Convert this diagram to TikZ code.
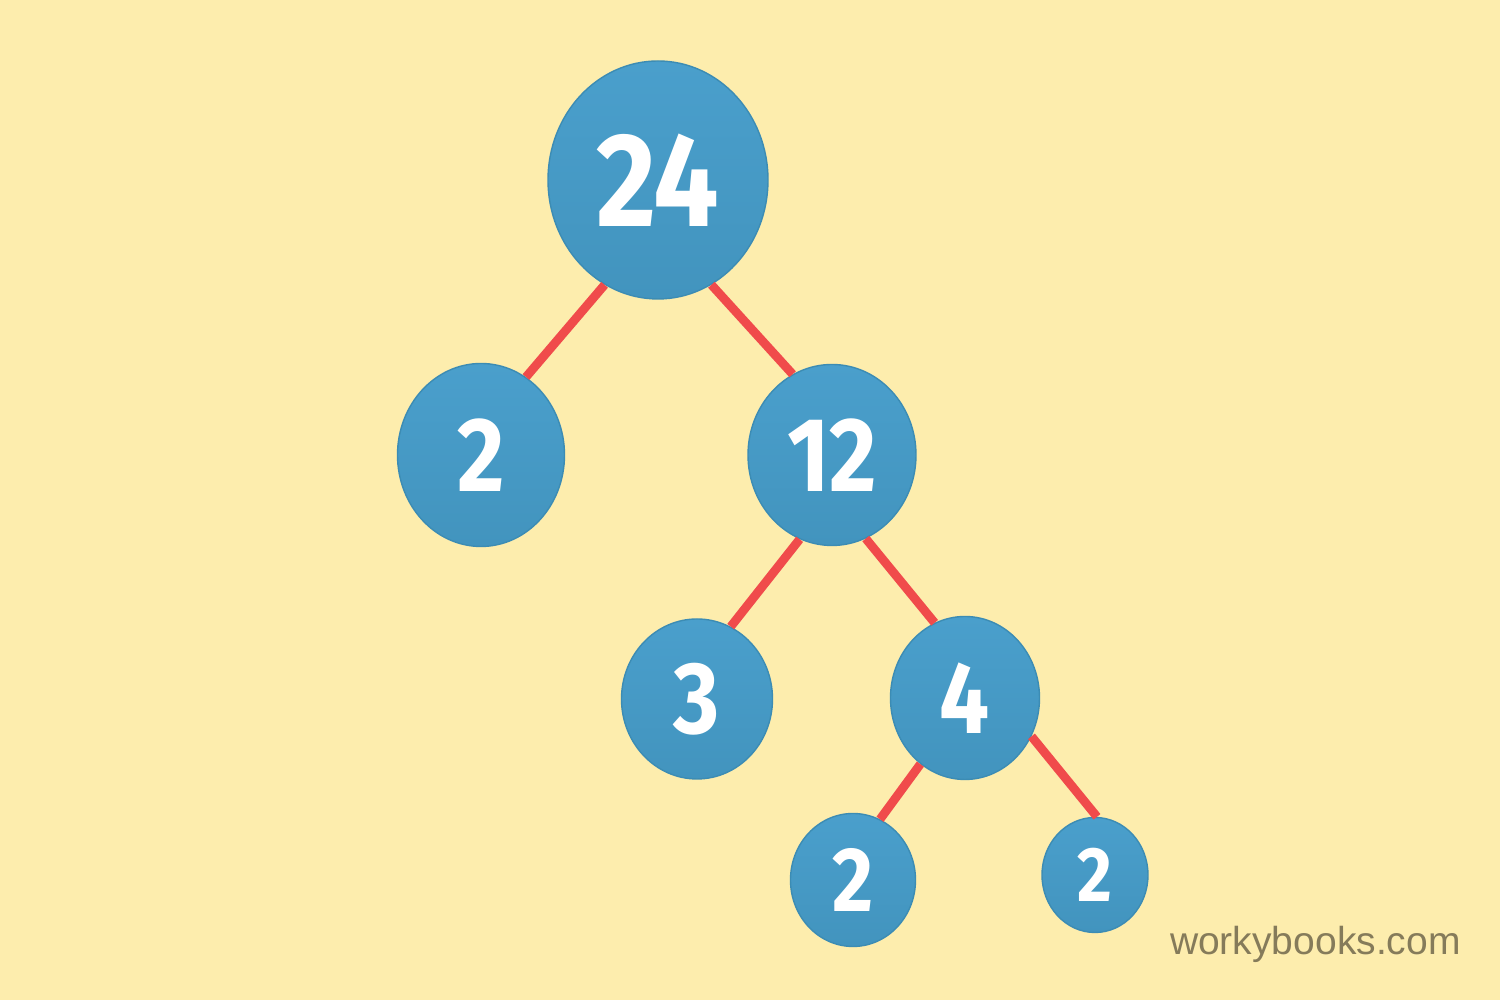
\documentclass[tikz,border=0pt]{standalone}
\usepackage{fontspec}
\usepackage{tikz}
\usetikzlibrary{shapes.geometric}
\newfontfamily\numfont[FakeStretch=0.87]{Fira Sans}
\newfontfamily\markfont{Liberation Sans}
\definecolor{paper}{RGB}{253,237,173}
\definecolor{ball}{RGB}{74,159,204}
\definecolor{balldark}{RGB}{66,148,190}
\definecolor{ballrim}{RGB}{60,140,180}
\definecolor{stick}{RGB}{240,75,75}
\definecolor{markgray}{RGB}{133,123,90}

\begin{document}
\begin{tikzpicture}[
  ball/.style={ellipse,inner sep=0pt,top color=ball,bottom color=balldark,
    draw=ballrim,line width=0.4pt,text=white},
  stick/.style={draw=stick,line width=2.5pt}]
\fill[paper] (0,0) rectangle (15,10);
\useasboundingbox (0,0) rectangle (15,10);

\node[ball,minimum width=2.20cm,minimum height=2.38cm,font=\numfont\bfseries\fontsize{38}{38}\selectfont] (n24) at (6.58,8.20) {24};
\node[ball,minimum width=1.67cm,minimum height=1.83cm,font=\numfont\bfseries\fontsize{30}{30}\selectfont] (n2a) at (4.81,5.45) {2};
\node[ball,minimum width=1.68cm,minimum height=1.81cm,font=\numfont\bfseries\fontsize{30}{30}\selectfont] (n12) at (8.32,5.45) {12};
\node[ball,minimum width=1.51cm,minimum height=1.60cm,font=\numfont\bfseries\fontsize{29}{29}\selectfont] (n3) at (6.97,3.01) {3};
\node[ball,minimum width=1.49cm,minimum height=1.63cm,font=\numfont\bfseries\fontsize{29}{29}\selectfont] (n4) at (9.65,3.02) {4};
\node[ball,minimum width=1.25cm,minimum height=1.33cm,font=\numfont\bfseries\fontsize{26}{26}\selectfont] (n2b) at (8.53,1.20) {2};
\node[ball,minimum width=1.06cm,minimum height=1.15cm,font=\numfont\bfseries\fontsize{22}{22}\selectfont] (n2c) at (10.95,1.25) {2};

\draw[stick] (n24.243) -- (n2a.60);
\draw[stick] (n24.297) -- (n12.116);
\draw[stick] (n12.249) -- (n3.65);
\draw[stick] (n12.292) -- (n4.112);
\draw[stick] (n4.236) -- (n2b.66);
\draw[stick] (n4.330) -- (n2c.88);

\node[text=markgray,font=\markfont\fontsize{11.1}{12}\selectfont,anchor=base east] (mark) at (14.73,0.45) {workybooks.com};
\end{tikzpicture}
\end{document}
